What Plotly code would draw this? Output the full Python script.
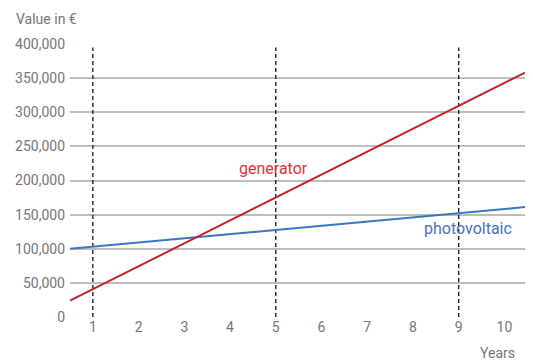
import plotly.graph_objects as go

# Data
years_span = [0.5, 10.45]
generator = [24000, 358000]
photovoltaic = [100000, 161000]
marker_years = [1, 5, 9]
marker_top = 395000
x_ticks = [1, 2, 3, 4, 5, 6, 7, 8, 9, 10]
y_ticks = [0, 50000, 100000, 150000, 200000, 250000, 300000, 350000, 400000]

RED = "#c8232c"
BLUE = "#3a76c0"
GRAY_TEXT = "#767676"
GRID = "#bdbdbd"
FONT = "Roboto"

fig = go.Figure()

for yr in marker_years:
    fig.add_trace(go.Scatter(
        x=[yr, yr], y=[0, marker_top], mode="lines",
        line=dict(color="#111111", width=1.3, dash="4px,3px"),
        hoverinfo="skip", showlegend=False))

fig.add_trace(go.Scatter(x=years_span, y=photovoltaic, mode="lines",
                         line=dict(color=BLUE, width=2), showlegend=False))
fig.add_trace(go.Scatter(x=years_span, y=generator, mode="lines",
                         line=dict(color=RED, width=2), showlegend=False))

fig.add_annotation(x=4.95, y=217000, text="generator", showarrow=False,
                   font=dict(family=FONT, size=16, color="#d8343d"))
fig.add_annotation(x=9.2, y=130000, text="photovoltaic", showarrow=False,
                   font=dict(family=FONT, size=16, color="#4a72b8"))

fig.add_annotation(xref="paper", yref="paper", x=-0.123, y=1.055,
                   xanchor="left", yanchor="bottom", text="Value in €",
                   showarrow=False, font=dict(family=FONT, size=14, color=GRAY_TEXT))
fig.add_annotation(xref="paper", yref="paper", x=0.982, y=-0.095,
                   xanchor="right", yanchor="top", text="Years",
                   showarrow=False, font=dict(family=FONT, size=14, color=GRAY_TEXT))

fig.update_layout(
    width=533, height=362,
    margin=dict(l=70, r=8, t=44, b=45),
    paper_bgcolor="white", plot_bgcolor="white",
    font=dict(family=FONT, size=14, color=GRAY_TEXT),
    xaxis=dict(range=[0.5, 10.45], tickvals=x_ticks, showgrid=False,
               zeroline=False, showline=False, ticks="", fixedrange=True,
               automargin=False),
    yaxis=dict(range=[0, 400000], tickvals=y_ticks, tickformat=",",
               showgrid=True, gridcolor=GRID, gridwidth=1.6,
               zeroline=False, showline=False, ticks="", ticklabelstandoff=4,
               automargin=False),
)

fig.write_html("out.html", config={"displayModeBar": False},
               post_script="document.body.style.margin='0';document.body.style.overflow='hidden';")
